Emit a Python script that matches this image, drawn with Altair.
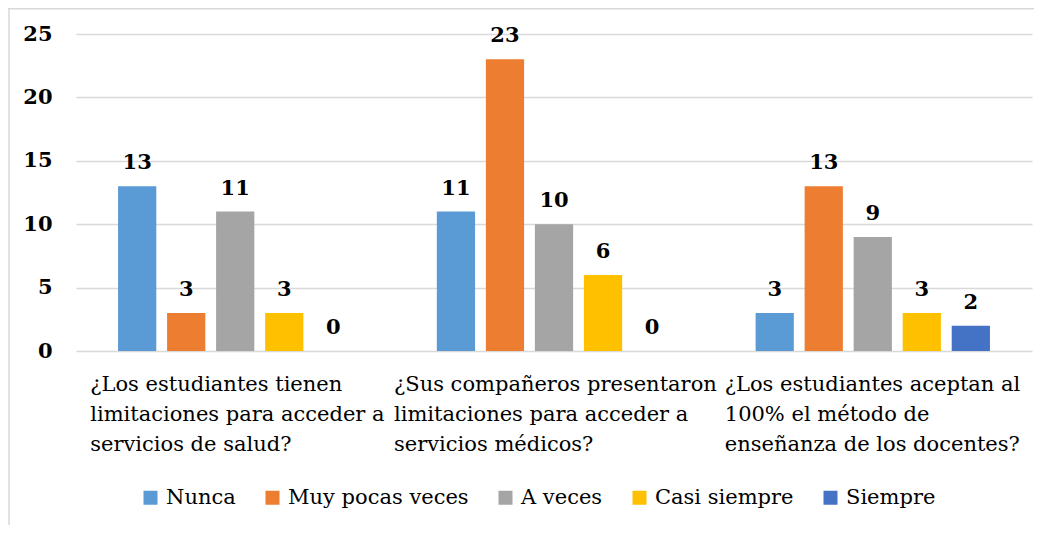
import json
import altair as alt
import pandas as pd

category_lines = [
    ["¿Los estudiantes tienen", "limitaciones para acceder a", "servicios de salud?"],
    ["¿Sus compañeros presentaron", "limitaciones para acceder a", "servicios médicos?"],
    ["¿Los estudiantes aceptan al", "100% el método de", "enseñanza de los docentes?"],
]
categories = [" ".join(l) for l in category_lines]
series = ["Nunca", "Muy pocas veces", "A veces", "Casi siempre", "Siempre"]
colors = ["#5B9BD5", "#ED7D31", "#A5A5A5", "#FFC000", "#4472C4"]
nunca = [13, 11, 3]
muy_pocas = [3, 23, 13]
a_veces = [11, 10, 9]
casi_siempre = [3, 6, 3]
siempre = [0, 0, 2]
y_ticks = [0, 5, 10, 15, 20, 25]

series_values = [nunca, muy_pocas, a_veces, casi_siempre, siempre]
rows = []
for s, vals in zip(series, series_values):
    for c, v in zip(categories, vals):
        rows.append({"categoria": c, "serie": s, "valor": v})
df = pd.DataFrame(rows)

FONT = "DejaVu Serif"
TXT = 21
NUM = 21

# label expression: split each category into its lines
expr = "''"
for c, lines in reversed(list(zip(categories, category_lines))):
    expr = f"datum.value == {json.dumps(c)} ? {json.dumps(lines)} : {expr}"

label_offset = {
    "condition": [
        {"test": f"datum.value == {json.dumps(categories[0])}", "value": -145},
        {"test": f"datum.value == {json.dumps(categories[1])}", "value": -160},
    ],
    "value": -148,
}

x_enc = alt.X(
    "categoria:N",
    sort=categories,
    scale=alt.Scale(paddingInner=0.231, paddingOuter=0.115),
    axis=alt.Axis(
        title=None,
        labelExpr=expr,
        labelAngle=0,
        labelAlign="left",
        labelBaseline="top",
        labelOffset=label_offset,
        labelPadding=22,
        labelFontSize=TXT,
        labelLineHeight=30,
        labelColor="#000000",
        labelFont=FONT,
        labelLimit=0,
        labelOverlap=False,
        labelFlush=False,
        ticks=False,
        domain=False,
        grid=False,
    ),
)
xoff_enc = alt.XOffset(
    "serie:N", sort=series, scale=alt.Scale(paddingInner=0.22, paddingOuter=0.11)
)
y_enc = alt.Y(
    "valor:Q",
    scale=alt.Scale(domain=[0, 25], nice=False),
    axis=alt.Axis(
        title=None,
        values=y_ticks,
        labelFontSize=NUM,
        labelFontWeight="bold",
        labelColor="#000000",
        labelFont=FONT,
        labelPadding=24,
        ticks=False,
        domain=False,
        grid=True,
        gridColor="#D9D9D9",
        gridWidth=1.5,
    ),
)

bars = alt.Chart(df).mark_bar().encode(
    x=x_enc,
    xOffset=xoff_enc,
    y=y_enc,
    color=alt.Color(
        "serie:N",
        sort=series,
        scale=alt.Scale(domain=series, range=colors),
        legend=alt.Legend(
            title=None,
            orient="none",
            legendX=64,
            legendY=453,
            direction="horizontal",
            columns=5,
            symbolType="square",
            symbolSize=196,
            symbolStrokeWidth=0,
            labelFontSize=TXT,
            labelFont=FONT,
            labelColor="#000000",
            labelOffset=5,
            columnPadding=26,
            padding=0,
            labelLimit=0,
        ),
    ),
)

labels = alt.Chart(df).mark_text(
    baseline="alphabetic", dy=-17, fontSize=NUM, fontWeight="bold", font=FONT, color="#000000"
).encode(
    x=alt.X("categoria:N", sort=categories),
    xOffset=alt.XOffset("serie:N", sort=series),
    y="valor:Q",
    text="valor:Q",
)

border_data = alt.Data(values=[{"k": 1}])
left_border = alt.Chart(border_data).mark_rule(color="#D9D9D9", strokeWidth=1.5).encode(
    x=alt.value(-67), y=alt.value(-26), y2=alt.value(500)
)
top_border = alt.Chart(border_data).mark_rule(color="#D9D9D9", strokeWidth=1.5).encode(
    x=alt.value(-68), x2=alt.value(1000), y=alt.value(-25.2)
)

chart = (
    alt.layer(bars, labels, left_border, top_border)
    .properties(
        width=956,
        height=317,
        autosize=alt.AutoSizeParams(type="none"),
        padding={"left": 68, "top": 26, "right": 2, "bottom": 174},
        view=alt.ViewBackground(strokeWidth=0, strokeOpacity=0),
    )
    .configure_view(strokeWidth=0)
    .configure(font=FONT)
)

chart.save("out.html", embed_options={"renderer": "svg", "actions": False})
